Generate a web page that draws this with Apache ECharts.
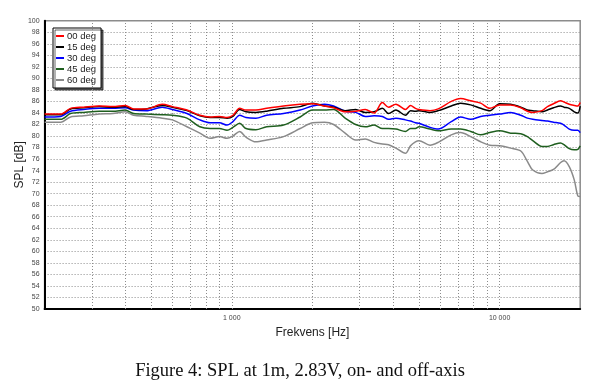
<!DOCTYPE html>
<html><head><meta charset="utf-8">
<script src="https://cdn.jsdelivr.net/npm/echarts@6/dist/echarts.min.js"></script>
<style>html,body{margin:0;padding:0;background:#fff}#c{width:600px;height:389px}</style>
</head><body><div id="c"></div>
<script>
const freq = [200,230,250,280,320,360,400,430,480,550,600,680,760,830,900,960,1010,1070,1130,1230,1350,1560,1800,2000,2220,2400,2650,2900,3150,3400,3650,3850,4100,4450,4650,4850,5000,5500,5900,6600,7150,7800,8500,9200,10000,11000,12000,12700,13300,14400,15100,15900,16900,17400,18200,19000,19600,20000];
const deg00 = [83.8,83.8,84.8,85.0,85.2,85.1,85.3,84.7,84.7,85.5,85.1,84.5,83.6,83.3,83.4,83.2,83.6,84.8,84.5,84.5,84.8,85.2,85.5,85.6,85.2,84.9,84.2,84.3,84.6,84.0,85.8,85.0,85.5,84.6,85.3,84.8,84.6,84.4,84.7,86.0,86.5,86.1,85.7,84.8,85.4,85.4,84.9,84.3,84.1,84.4,85.1,85.6,86.1,85.9,85.5,85.3,85.2,85.8];
const deg15 = [83.7,83.7,84.7,84.9,85.1,85.0,85.1,84.6,84.7,85.3,85.0,84.4,83.5,83.2,83.2,83.1,83.4,84.6,84.2,84.1,84.3,84.8,85.1,85.7,85.2,85.0,84.4,84.6,84.1,84.2,84.8,83.9,84.5,83.6,84.4,84.3,84.4,84.1,84.4,85.2,85.7,85.4,84.8,84.4,85.6,85.5,85.0,84.5,84.4,84.2,84.5,84.9,85.2,85.0,84.8,84.2,84.0,85.2];
const deg30 = [83.3,83.4,84.3,84.6,84.8,84.8,84.9,84.5,84.4,85.0,84.6,83.9,82.8,82.3,82.3,81.9,82.5,83.6,83.2,83.1,83.6,83.9,84.5,85.2,85.5,85.2,84.3,84.1,83.4,83.5,83.4,82.9,83.1,82.8,82.6,82.3,82.2,81.5,81.2,82.5,83.3,82.9,83.4,83.6,83.8,84.1,83.6,83.1,82.9,82.7,82.6,82.4,82.2,81.9,81.2,81.0,81.0,80.6];
const deg45 = [82.9,82.9,83.9,84.1,84.3,84.3,84.5,83.9,83.8,83.7,83.6,83.1,81.6,81.3,81.3,81.0,81.5,82.2,81.3,81.1,81.6,81.9,83.3,84.5,84.5,84.6,83.1,82.0,81.6,81.9,81.3,81.3,81.2,80.8,81.3,81.3,81.6,81.2,80.9,81.2,81.2,80.8,80.2,80.6,80.9,80.5,80.4,79.9,79.2,78.2,78.2,78.5,78.8,78.5,77.8,77.6,77.7,78.3];
const deg60 = [82.4,82.4,83.3,83.5,83.8,83.9,84.2,83.6,83.4,83.1,82.8,81.6,80.5,79.6,79.9,79.6,80.0,80.8,79.8,79.0,79.3,79.9,81.3,82.3,82.4,82.0,80.5,79.3,79.5,78.9,78.6,78.5,77.9,77.0,78.3,79.0,79.2,78.4,78.9,80.2,80.6,79.9,79.0,78.4,78.3,77.9,77.4,75.6,74.1,73.5,73.8,74.2,75.4,75.7,74.7,72.4,69.6,69.5];
const seriesNames = ['00 deg','15 deg','30 deg','45 deg','60 deg'];
const seriesColors = ['#ff0000','#000000','#0000ff','#1f5f1f','#8a8a8a'];
const gridFreqs = [300,400,500,600,700,800,900,1000,2000,3000,4000,5000,6000,7000,8000,9000,10000];
const xTickLabels = {1000:'1 000', 10000:'10 000'};

const values = [deg00,deg15,deg30,deg45,deg60];
const chart = echarts.init(document.getElementById('c'), null, {renderer:'canvas'});
const series = [{
  type:'line', data:[], silent:true, z:1,
  markLine:{silent:true, symbol:['none','none'], label:{show:false},
    lineStyle:{type:[1,2], color:'#8c8c8c', width:1},
    data: gridFreqs.map(f=>({xAxis:f}))}
}];
values.forEach((arr,i)=>{
  series.push({name:seriesNames[i], type:'line', showSymbol:false, smooth:0.3, z:3+(5-i),
    lineStyle:{color:seriesColors[i], width:1.5}, itemStyle:{color:seriesColors[i]},
    data: freq.map((f,k)=>[f,arr[k]])});
});
chart.setOption({
  animation:false,
  backgroundColor:'#fff',
  grid:{left:44.6, right:19.8, top:20.7, bottom:80, show:true, borderColor:'#8c8c8c', borderWidth:1.5},
  legend:{data:seriesNames, orient:'vertical', left:53, top:28, icon:'rect', itemWidth:8, itemHeight:2,
    itemGap:1, padding:[3,5,3,3], backgroundColor:'#fff', borderColor:'#000', borderWidth:1,
    shadowColor:'rgba(0,0,0,0.6)', shadowOffsetX:2, shadowOffsetY:2, shadowBlur:0,
    textStyle:{fontFamily:'Liberation Sans', fontSize:9.5, color:'#222', lineHeight:10, padding:[0,0,0,-2]}},
  xAxis:{type:'log', logBase:10, min:200, max:20000,
    name:'Frekvens [Hz]', nameLocation:'middle', nameGap:18, nameMoveOverlap:false,
    nameTextStyle:{fontFamily:'Liberation Sans', fontSize:12, color:'#222'},
    axisLine:{show:true, lineStyle:{color:'#000', width:2}}, axisTick:{show:false},
    splitLine:{show:false}, minorSplitLine:{show:false},
    axisLabel:{fontFamily:'Liberation Sans', fontSize:7, color:'#444', margin:6, showMinLabel:false, showMaxLabel:false,
      formatter:v=>xTickLabels[Math.round(v)]||''}},
  yAxis:{type:'value', min:50, max:100, interval:2,
    name:'SPL [dB]', nameLocation:'middle', nameGap:19, nameRotate:90, nameMoveOverlap:false,
    nameTextStyle:{fontFamily:'Liberation Sans', fontSize:12, color:'#222'},
    axisLine:{show:true, lineStyle:{color:'#000', width:2}}, axisTick:{show:false},
    splitLine:{show:true, lineStyle:{type:[1,2], color:'#8c8c8c', width:1}},
    axisLabel:{fontFamily:'Liberation Sans', fontSize:7, color:'#444', margin:5}},
  graphic:[{type:'text', left:'center', top:362,
    style:{text:'Figure 4: SPL at 1m, 2.83V, on- and off-axis', fontFamily:'Liberation Serif', fontSize:18.5, fill:'#111'}}],
  series
});
</script></body></html>
